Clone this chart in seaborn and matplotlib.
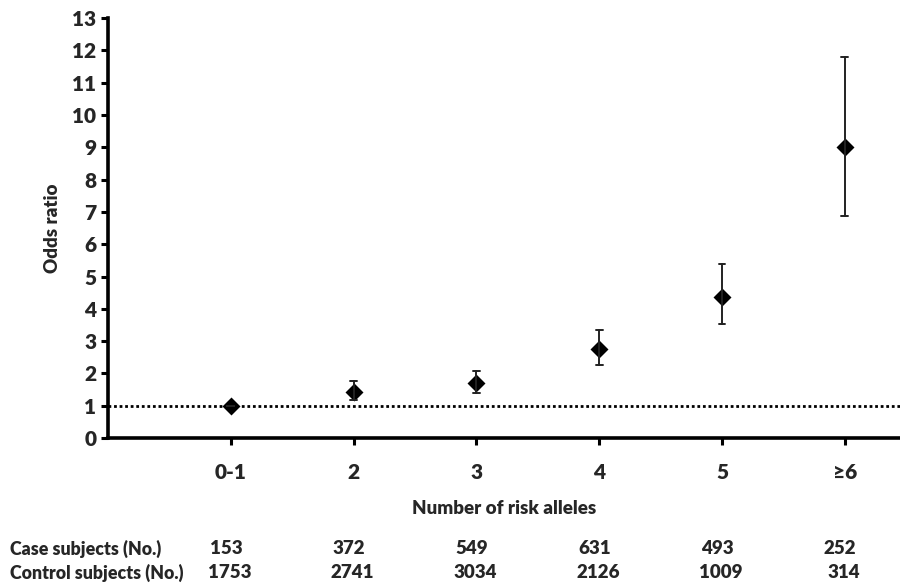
import numpy as np
import pandas as pd
import matplotlib
matplotlib.use("Agg")
import matplotlib.pyplot as plt
import seaborn as sns

# data
alleles = ["0-1", "2", "3", "4", "5", "≥6"]
odds_ratio = [1.0, 1.43, 1.71, 2.75, 4.36, 9.0]
ci_low = [1.0, 1.18, 1.40, 2.25, 3.52, 6.87]
ci_high = [1.0, 1.76, 2.08, 3.34, 5.39, 11.8]
case_n = [153, 372, 549, 631, 493, 252]
control_n = [1753, 2741, 3034, 2126, 1009, 314]

sns.set_style("white")
plt.rcParams["font.family"] = ["Lato", "DejaVu Sans"]
W = "heavy"

# long format: low / estimate / high per group, median = estimate, range = CI
df = pd.DataFrame({
    "alleles": np.repeat(alleles, 3),
    "value": np.ravel(np.column_stack([ci_low, odds_ratio, ci_high])),
})

fig = plt.figure(figsize=(9, 5.84), dpi=100)
ax = fig.add_axes([0.12, 0.25, 0.88, 0.719])

ax.axhline(1, color="black", linestyle=(0, (1, 1)), linewidth=2, zorder=1)

sns.pointplot(data=df, x="alleles", y="value", order=alleles,
              estimator=np.median, errorbar=lambda v: (v.min(), v.max()),
              markers="D", linestyles="none", color="black",
              capsize=0.055, err_kws={"linewidth": 1.4, "color": "#222222"},
              markersize=7, ax=ax, zorder=3)

ax.set_ylim(0, 13)
ax.set_yticks(range(0, 14))
ax.set_xlim(-1, 5.45)

for side in ["top", "right"]:
    ax.spines[side].set_visible(False)
for side in ["left", "bottom"]:
    ax.spines[side].set_linewidth(2.6)
    ax.spines[side].set_color("black")

ax.tick_params(axis="both", direction="out", length=5, width=2.2,
               labelsize=15, color="black", left=True, bottom=True)
ax.tick_params(axis="x", pad=13)
for lab in ax.get_xticklabels() + ax.get_yticklabels():
    lab.set_fontweight(W)

ax.set_ylabel("Odds ratio", fontsize=13.5, fontweight=W, labelpad=8)
ax.set_xlabel("Number of risk alleles", fontsize=13.5, fontweight=W,
              labelpad=13)

# table of subject counts under the axis
trans = matplotlib.transforms.blended_transform_factory(ax.transData, fig.transFigure)
row_y = [1 - 549 / 584, 1 - 573 / 584]
fig.text(10 / 900, row_y[0], "Case subjects (No.)", fontsize=12.8,
         fontweight=W, va="center", ha="left")
fig.text(10 / 900, row_y[1], "Control subjects (No.)", fontsize=12.8,
         fontweight=W, va="center", ha="left")
for i, (c, k) in enumerate(zip(case_n, control_n)):
    ax.text(i - 0.04, row_y[0], str(c), transform=trans, fontsize=13.5,
            fontweight=W, ha="center", va="center")
    ax.text(i - 0.01, row_y[1], str(k), transform=trans, fontsize=13.5,
            fontweight=W, ha="center", va="center")

fig.savefig("out.png", dpi=100)
